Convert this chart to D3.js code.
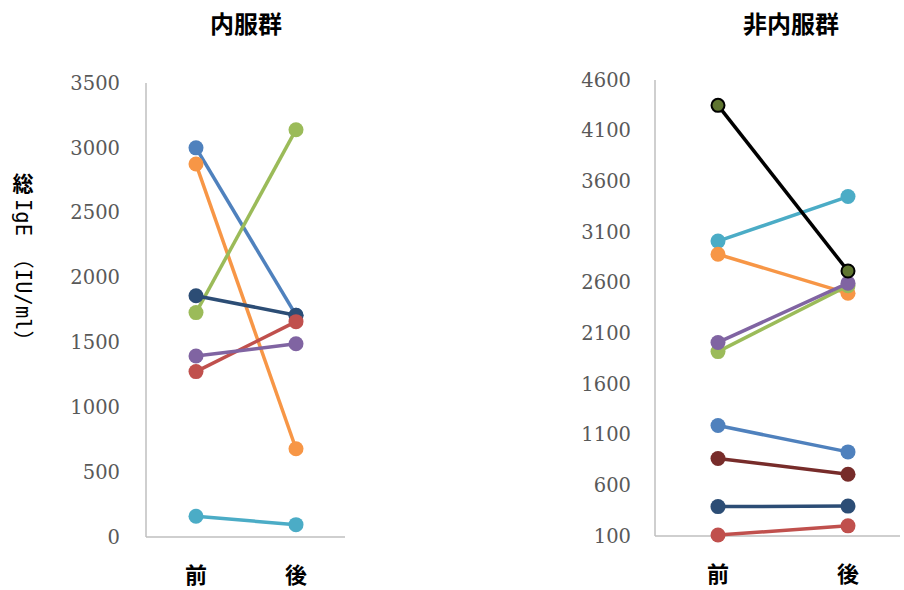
<!DOCTYPE html>
<html lang="ja">
<head>
<meta charset="UTF-8">
<title>総IgE 内服群・非内服群</title>
<style>
  body { margin: 0; background: #fff; }
  svg { display: block; }
  .tick text { font-family: "DejaVu Serif", "Liberation Serif", serif; font-size: 19.5px; fill: #595959; }
  .title, .cat { font-family: "Noto Sans CJK JP", sans-serif; font-weight: bold; fill: #000; }
  .ytitle { font-family: "DejaVu Sans Mono", "Noto Sans CJK JP", monospace; font-size: 20.5px; fill: #000; }
</style>
</head>
<body>
<div id="chart"></div>
<script src="https://d3js.org/d3.v7.min.js"></script>
<script>
  // categories on the x axis
  const periods = ["前", "後"];

  // 内服群 (before, after)
  const leftColors = ["#4F81BD", "#F79646", "#9BBB59", "#2C4D75", "#C0504D", "#8064A2", "#4BACC6"];
  const leftValues = [
    [3000, 1710],
    [2875, 680],
    [1730, 3140],
    [1860, 1710],
    [1275, 1660],
    [1395, 1490],
    [160, 95]
  ];
  const leftTicks = [0, 500, 1000, 1500, 2000, 2500, 3000, 3500];

  // 非内服群 (before, after)
  const rightColors = ["#4BACC6", "#F79646", "#9BBB59", "#8064A2", "#4F81BD", "#772C2A", "#2C4D75", "#C0504D", "#000000"];
  const rightFills  = ["#4BACC6", "#F79646", "#9BBB59", "#8064A2", "#4F81BD", "#772C2A", "#2C4D75", "#C0504D", "#5F7530"];
  const rightValues = [
    [3010, 3450],
    [2880, 2495],
    [1920, 2570],
    [2010, 2595],
    [1190, 930],
    [865, 710],
    [390, 395],
    [110, 200],
    [4350, 2715]
  ];
  const rightTicks = [100, 600, 1100, 1600, 2100, 2600, 3100, 3600, 4100, 4600];

  const width = 904, height = 590;
  const svg = d3.select("#chart").append("svg")
      .attr("width", width)
      .attr("height", height);

  function drawPanel(opts) {
    const y = d3.scaleLinear().domain(opts.domain).range([opts.bottom, opts.top]);
    const x = d3.scalePoint().domain(periods).range(opts.xs);

    const g = svg.append("g");

    // y axis labels; the axis line is drawn separately
    const yAxis = g.append("g")
        .attr("transform", `translate(${opts.left},0)`)
        .call(d3.axisLeft(y).tickValues(opts.ticks).tickSize(0).tickPadding(opts.pad).tickFormat(d3.format("d")));
    yAxis.select(".domain").remove();

    g.append("line")
        .attr("x1", opts.left).attr("x2", opts.left)
        .attr("y1", opts.top).attr("y2", opts.bottom)
        .attr("stroke", "#BFBFBF").attr("stroke-width", 1.5);
    g.append("line")
        .attr("x1", opts.left).attr("x2", opts.right)
        .attr("y1", opts.bottom).attr("y2", opts.bottom)
        .attr("stroke", "#BFBFBF").attr("stroke-width", 1.5);

    // category labels
    g.selectAll(".cat")
        .data(periods)
        .enter().append("text")
        .attr("class", "cat")
        .attr("x", d => x(d))
        .attr("y", opts.bottom + 46)
        .attr("text-anchor", "middle")
        .style("font-size", "22px")
        .text(d => d);

    // title
    g.append("text")
        .attr("class", "title")
        .attr("x", opts.titleX)
        .attr("y", 33)
        .attr("text-anchor", "middle")
        .style("font-size", "24px")
        .text(opts.title);

    const line = d3.line().x((d, i) => x(periods[i])).y(d => y(d));

    opts.values.forEach((vals, k) => {
      const s = g.append("g");
      s.append("path")
          .attr("d", line(vals))
          .attr("fill", "none")
          .attr("stroke", opts.colors[k])
          .attr("stroke-width", 3.5);
      s.selectAll("circle")
          .data(vals)
          .enter().append("circle")
          .attr("cx", (d, i) => x(periods[i]))
          .attr("cy", d => y(d))
          .attr("r", opts.strokes && opts.strokes[k] ? 6.5 : 7.5)
          .attr("fill", opts.fills ? opts.fills[k] : opts.colors[k])
          .attr("stroke", opts.strokes && opts.strokes[k] ? "#000" : "none")
          .attr("stroke-width", 2);
    });
  }

  drawPanel({
    title: "内服群", titleX: 246,
    domain: [0, 3500], ticks: leftTicks,
    top: 83, bottom: 537, left: 146, right: 345, pad: 26,
    xs: [196, 296],
    values: leftValues, colors: leftColors
  });

  drawPanel({
    title: "非内服群", titleX: 791,
    domain: [100, 4600], ticks: rightTicks,
    top: 80, bottom: 536, left: 655, right: 900, pad: 24,
    xs: [718, 848],
    values: rightValues, colors: rightColors, fills: rightFills,
    strokes: [0, 0, 0, 0, 0, 0, 0, 0, 1]
  });

  // y axis title: 総 upright, the rest turned sideways
  svg.append("text")
      .attr("x", 23)
      .attr("y", 191)
      .attr("text-anchor", "middle")
      .style("font-family", "'Noto Sans CJK JP', sans-serif")
      .style("font-size", "21px")
      .style("font-weight", "bold")
      .text("総");

  svg.append("text")
      .attr("class", "ytitle")
      .attr("transform", "translate(23,199) rotate(90)")
      .attr("dominant-baseline", "central")
      .text("IgE （IU/ml）");
</script>
</body>
</html>
